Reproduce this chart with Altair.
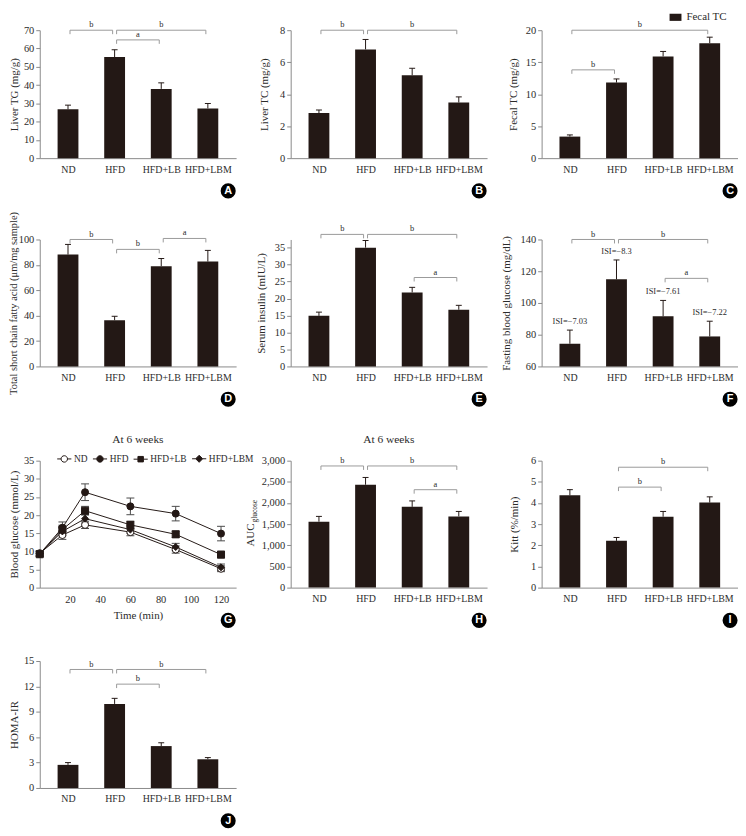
import altair as alt
import pandas as pd

# ---------------- data ----------------
GROUPS = ["ND", "HFD", "HFD+LB", "HFD+LBM"]

A_MEAN = [26.7, 55.3, 37.9, 27.2]
A_ERR = [2.3, 4.0, 3.3, 2.7]
A_BRACKETS = [(0, 1, 70.0, "b"), (1, 3, 70.0, "b"), (1, 2, 64.7, "a")]

B_MEAN = [2.82, 6.80, 5.18, 3.48]
B_ERR = [0.19, 0.62, 0.44, 0.35]
B_BRACKETS = [(0, 1, 8.0, "b"), (1, 3, 8.0, "b")]

C_MEAN = [3.37, 11.81, 15.9, 17.98]
C_ERR = [0.26, 0.57, 0.78, 0.93]
C_BRACKETS = [(0, 3, 20.0, "b"), (0, 1, 13.8, "b")]

D_MEAN = [88.1, 36.4, 79.0, 82.6]
D_ERR = [8.0, 3.1, 6.0, 8.8]
D_BRACKETS = [(0, 1, 100.0, "b"), (1, 2, 92.2, "b"), (2, 3, 100.8, "a")]

E_MEAN = [14.9, 35.0, 21.8, 16.7]
E_ERR = [1.1, 2.1, 1.5, 1.3]
E_BRACKETS = [(0, 1, 38.9, "b"), (1, 3, 38.9, "b"), (2, 3, 26.2, "a")]

F_MEAN = [74.3, 114.9, 91.6, 78.9]
F_ERR = [8.6, 12.2, 10.0, 9.6]
F_ISI = ["ISI=\u22127.03", "ISI=\u22128.3", "ISI=\u22127.61", "ISI=\u22127.22"]
F_BRACKETS = [(0, 1, 140.0, "b"), (1, 3, 140.0, "b"), (2, 3, 115.5, "a")]

TIMES = [0, 15, 30, 60, 90, 120]
G_ND = [9.5, 14.5, 17.3, 15.3, 10.5, 5.2]
G_HFD = [9.3, 16.5, 26.3, 22.4, 20.4, 14.9]
G_LB = [9.2, 16.0, 21.2, 17.3, 14.7, 9.1]
G_LBM = [9.4, 15.5, 19.0, 16.0, 11.2, 5.6]
G_ND_ERR = [0.7, 1.2, 1.0, 1.0, 1.0, 0.8]
G_HFD_ERR = [0.7, 1.6, 2.3, 2.3, 2.0, 2.0]
G_LB_ERR = [0.6, 1.2, 1.2, 1.0, 0.9, 0.9]
G_LBM_ERR = [0.6, 1.2, 1.2, 1.0, 1.0, 0.9]

H_MEAN = [1558, 2431, 1909, 1683]
H_ERR = [125, 172, 140, 117]
H_BRACKETS = [(0, 1, 2875, "b"), (1, 3, 2875, "b"), (2, 3, 2314, "a")]

I_MEAN = [4.36, 2.21, 3.35, 4.02]
I_ERR = [0.27, 0.16, 0.25, 0.27]
I_BRACKETS = [(1, 3, 5.69, "b"), (1, 2, 4.75, "b")]

J_MEAN = [2.73, 9.93, 4.95, 3.39]
J_ERR = [0.27, 0.66, 0.39, 0.20]
J_BRACKETS = [(0, 1, 14.0, "b"), (1, 3, 14.0, "b"), (1, 2, 12.27, "b")]

# ---------------- style ----------------
DARK = "#231815"
AXIS = "#8a8a8a"
BRACKET = "#9a9a9a"
TEXT = "#2b2b2b"
ERRC = "#4a4a4a"
SERIF = "Liberation Serif"
SANS = "Liberation Sans"
W = 198
LFS = 10
LABEL_EXPR = "[" + ",".join("'%s'" % g for g in GROUPS) + "][datum.value]"


def y_axis(title, values, tpad, fmt=None, tfont=11):
    kw = dict(values=values, grid=False, tickSize=4, tickColor=AXIS,
              domainColor=AXIS, labelFont=SERIF, labelFontSize=LFS + 0.5, labelColor=TEXT,
              labelPadding=2, labelOverlap=False, titleFont=SERIF, titleFontSize=tfont,
              titleFontWeight="normal", titleColor=TEXT, titlePadding=tpad)
    kw["title"] = title
    if fmt:
        kw["format"] = fmt
    return alt.Axis(**kw)


def badge(letter, height):
    d = pd.DataFrame({"letter": [letter]})
    pos = dict(x=alt.value(190), y=alt.value(height + 33))
    c = alt.Chart(d).mark_circle(size=230, color="#000000", opacity=1).encode(**pos)
    t = alt.Chart(d).mark_text(color="white", font=SANS, fontWeight="bold", fontSize=11,
                               baseline="middle", align="center").encode(text="letter:N", **pos)
    return [c, t]


def bar_panel(letter, means, errs, brackets, ytitle, ydom, yticks, height, top, tpad,
              fmt=None, isi=None, legend_label=None, title=None, tfont=11, extra=None):
    df = pd.DataFrame({"idx": list(range(len(GROUPS))), "group": GROUPS,
                       "mean": means, "upper": [m + e for m, e in zip(means, errs)]})
    if isi:
        df["isi"] = isi
    if legend_label:
        df["series"] = legend_label
    xs = alt.Scale(domain=[-0.5, len(GROUPS) - 0.5], nice=False, zero=False)
    ys = alt.Scale(domain=ydom, range=[height, top], nice=False, zero=False)
    xaxis = alt.Axis(values=list(range(len(GROUPS))), labelExpr=LABEL_EXPR, ticks=False,
                     tickSize=0, grid=False, title=None, labelPadding=6, labelFont=SERIF,
                     labelFontSize=LFS, labelColor=TEXT, domainColor=AXIS, labelAngle=0,
                     labelOverlap=False, labelFlush=False)
    yaxis = y_axis(ytitle, yticks, tpad, fmt=fmt, tfont=tfont)

    def X(f):
        return alt.X(f, scale=xs, axis=xaxis)

    def Y(f):
        return alt.Y(f, scale=ys, axis=yaxis)

    base = alt.Chart(df)
    enc = dict(x=X("idx:Q"), y=Y("mean:Q"), y2=alt.datum(ydom[0]))
    if legend_label:
        enc["color"] = alt.Color("series:N", scale=alt.Scale(range=[DARK]),
                                 legend=alt.Legend(orient="none", legendX=129, legendY=-19,
                                                   title=None, symbolType="M-1,-0.6H1V0.6H-1Z",
                                                   symbolSize=144, symbolStrokeWidth=0,
                                                   labelFont=SERIF, labelFontSize=11,
                                                   labelColor=TEXT, labelOffset=5, padding=0))
        bars = base.mark_bar(size=21).encode(**enc)
    else:
        bars = base.mark_bar(size=21, color=DARK).encode(**enc)
    err = base.mark_rule(color=DARK, strokeWidth=1).encode(x=X("idx:Q"), y=Y("mean:Q"), y2="upper:Q")
    cap = base.mark_rule(color=DARK, strokeWidth=1, xOffset=-3, x2Offset=3).encode(
        x=X("idx:Q"), x2="idx:Q", y=Y("upper:Q"))
    layers = [bars, err, cap]

    bdf = pd.DataFrame(brackets, columns=["s", "e", "level", "label"])
    bdf["mid"] = (bdf["s"] + bdf["e"]) / 2
    bb = alt.Chart(bdf)
    layers.append(bb.mark_rule(color=BRACKET, strokeWidth=1, xOffset=2, x2Offset=-2).encode(
        x=X("s:Q"), x2="e:Q", y=Y("level:Q")))
    layers.append(bb.mark_rule(color=BRACKET, strokeWidth=1, xOffset=2, y2Offset=4).encode(
        x=X("s:Q"), y=Y("level:Q"), y2="level:Q"))
    layers.append(bb.mark_rule(color=BRACKET, strokeWidth=1, xOffset=-2, y2Offset=4).encode(
        x=X("e:Q"), y=Y("level:Q"), y2="level:Q"))
    layers.append(bb.mark_text(color=TEXT, font=SERIF, fontSize=8.5, baseline="bottom", dy=-1).encode(
        x=X("mid:Q"), y=Y("level:Q"), text="label:N"))

    if isi:
        layers.append(base.mark_text(color=TEXT, font=SERIF, fontSize=8.5, dy=-9).encode(
            x=X("idx:Q"), y=Y("upper:Q"), text="isi:N"))
    if extra:
        layers.extend(extra)
    layers.extend(badge(letter, height))
    props = dict(width=W, height=height)
    if title:
        props["title"] = title
    return alt.layer(*layers).properties(**props)


def six_weeks():
    return alt.Title("At 6 weeks", font=SERIF, fontSize=11.5, fontWeight="normal",
                     color=TEXT, frame="group", offset=-6, anchor="middle")


# ---------------- rows geometry ----------------
R1H, R1T = 129, 0
R2H, R2T = 136, 8
R3H, R3T = 149, 21
R4H, R4T = 128, 0

pA = bar_panel("A", A_MEAN, A_ERR, A_BRACKETS, "Liver TG (mg/g)", [0, 70],
               list(range(0, 71, 10)), R1H, R1T, 4)
pB = bar_panel("B", B_MEAN, B_ERR, B_BRACKETS, "Liver TC (mg/g)", [0, 8],
               list(range(0, 9, 2)), R1H, R1T, 10)
pC = bar_panel("C", C_MEAN, C_ERR, C_BRACKETS, "Fecal TC (mg/g)", [0, 20],
               list(range(0, 21, 5)), R1H, R1T, 7, legend_label="Fecal TC")
pD = bar_panel("D", D_MEAN, D_ERR, D_BRACKETS, "Total short chain fatty acid (\u03bcm/mg sample)",
               [0, 100], list(range(0, 101, 20)), R2H, R2T, 0, tfont=10.5)
pE = bar_panel("E", E_MEAN, E_ERR, E_BRACKETS, "Serum insulin (mIU/L)", [0, 37.4],
               list(range(0, 36, 5)), R2H, R2T, 8)
pF = bar_panel("F", F_MEAN, F_ERR, F_BRACKETS, "Fasting blood glucose (mg/dL)", [60, 140],
               list(range(60, 141, 20)), R2H, R2T, 8.5, isi=F_ISI)

# --- G: time course ---
SHAPES = ["circle", "circle", "square", "diamond"]
FILLS = ["white", DARK, DARK, DARK]
LEG_PATHS = [
    "M-2.2,0L-1,0M1,0L2.2,0M1,0A1,1,0,1,1,-1,0A1,1,0,1,1,1,0Z",
    "M-2.2,0L-1,0M1,0L2.2,0M1,0A1,1,0,1,1,-1,0A1,1,0,1,1,1,0Z",
    "M-2.2,0L-0.85,0M0.85,0L2.2,0M-0.85,-0.85L0.85,-0.85L0.85,0.85L-0.85,0.85Z",
    "M-2.2,0L-1.1,0M1.1,0L2.2,0M0,-1.1L1.1,0L0,1.1L-1.1,0Z",
]
rows = []
for g, ms, es in zip(GROUPS, [G_ND, G_HFD, G_LB, G_LBM], [G_ND_ERR, G_HFD_ERR, G_LB_ERR, G_LBM_ERR]):
    for t, m, e in zip(TIMES, ms, es):
        rows.append({"time": t, "series": g, "mean": m, "lo": m - e, "hi": m + e})
gdf = pd.DataFrame(rows)

gxs = alt.Scale(domain=[0, 130], nice=False, zero=False)
gys = alt.Scale(domain=[0, 35], range=[R3H, R3T], nice=False, zero=False)
gxaxis = alt.Axis(values=list(range(20, 121, 20)), ticks=False, tickSize=0, grid=False,
                  title="Time (min)", labelPadding=7, titlePadding=5, labelFont=SERIF,
                  labelFontSize=LFS + 0.5, labelColor=TEXT, domainColor=AXIS, titleFont=SERIF,
                  titleFontSize=11, titleFontWeight="normal", titleColor=TEXT, labelAngle=0,
                  labelOverlap=False, labelFlush=False)
gyaxis = y_axis("Blood glucose (mmol/L)", list(range(0, 36, 5)), 4)


def GX(f):
    return alt.X(f, scale=gxs, axis=gxaxis)


def GY(f):
    return alt.Y(f, scale=gys, axis=gyaxis)


gb = alt.Chart(gdf)
g_layers = [
    gb.mark_line(color=DARK, strokeWidth=1).encode(x=GX("time:Q"), y=GY("mean:Q"), detail="series:N"),
    gb.mark_rule(color=ERRC, strokeWidth=1).encode(x=GX("time:Q"), y=GY("lo:Q"), y2="hi:Q"),
    gb.mark_rule(color=ERRC, strokeWidth=1, xOffset=-4, x2Offset=4).encode(
        x=GX("time:Q"), x2="time:Q", y=GY("hi:Q")),
    gb.mark_rule(color=ERRC, strokeWidth=1, xOffset=-4, x2Offset=4).encode(
        x=GX("time:Q"), x2="time:Q", y=GY("lo:Q")),
]
for g, shp, fl in zip(GROUPS, SHAPES, FILLS):
    g_layers.append(gb.transform_filter(alt.datum.series == g).mark_point(
        shape=shp, filled=True, fill=fl, stroke=DARK, strokeWidth=1, size=50, opacity=1).encode(
        x=GX("time:Q"), y=GY("mean:Q")))
leg_kw = dict(orient="none", legendX=20, legendY=14, direction="horizontal", title=None,
              symbolSize=42, symbolStrokeWidth=1, symbolStrokeColor=DARK,
              labelFont=SERIF, labelFontSize=9.5, labelColor=TEXT, labelOffset=5,
              columnPadding=2, padding=0)
g_layers.append(gb.transform_filter("false").mark_point(
    filled=False, strokeWidth=1, opacity=1).encode(
    x=GX("time:Q"), y=GY("mean:Q"),
    shape=alt.Shape("series:N", scale=alt.Scale(domain=GROUPS, range=LEG_PATHS),
                    legend=alt.Legend(**leg_kw)),
    fill=alt.Fill("series:N", scale=alt.Scale(domain=GROUPS, range=FILLS),
                  legend=alt.Legend(**leg_kw)),
    stroke=alt.Stroke("series:N", scale=alt.Scale(domain=GROUPS, range=[DARK] * len(GROUPS)),
                      legend=alt.Legend(**leg_kw))))
pG = alt.layer(*g_layers, *badge("G", R3H)).properties(width=W, height=R3H, title=six_weeks())

# --- H: AUC with subscript (title drawn as text) ---
auc_df = pd.DataFrame({"s": ["AUC"]})
sub_df = pd.DataFrame({"s": ["glucose"]})
auc_txt = alt.Chart(auc_df).mark_text(
    font=SERIF, fontSize=11, color=TEXT, angle=270, align="center", baseline="middle").encode(
    x=alt.value(-40), y=alt.value(96), text="s:N")
sub_txt = alt.Chart(sub_df).mark_text(
    font=SERIF, fontSize=7.5, color=TEXT, angle=270, align="center", baseline="middle").encode(
    x=alt.value(-35.5), y=alt.value(72), text="s:N")
pH = bar_panel("H", H_MEAN, H_ERR, H_BRACKETS, None, [0, 3000], list(range(0, 3001, 500)),
               R3H, R3T, 4, fmt=",.0f", title=six_weeks(), extra=[auc_txt, sub_txt])
pI = bar_panel("I", I_MEAN, I_ERR, I_BRACKETS, "Kitt (%/min)", [0, 6], list(range(0, 7)),
               R3H, R3T, 11.5)
pJ = bar_panel("J", J_MEAN, J_ERR, J_BRACKETS, "HOMA-IR", [0, 15], list(range(0, 16, 3)),
               R4H, R4T, 4)

chart = alt.concat(pA, pB, pC, pD, pE, pF, pG, pH, pI, pJ, columns=3, bounds="flush",
                   align="each", spacing={"row": 74, "column": 55}).resolve_scale(
    color="independent", shape="independent", fill="independent", stroke="independent"
).properties(
    padding={"left": 0, "right": 0, "top": 0, "bottom": 0}
).configure(font=SERIF).configure_view(stroke=None)

chart.save("out.html", embed_options={"renderer": "svg", "actions": False})
